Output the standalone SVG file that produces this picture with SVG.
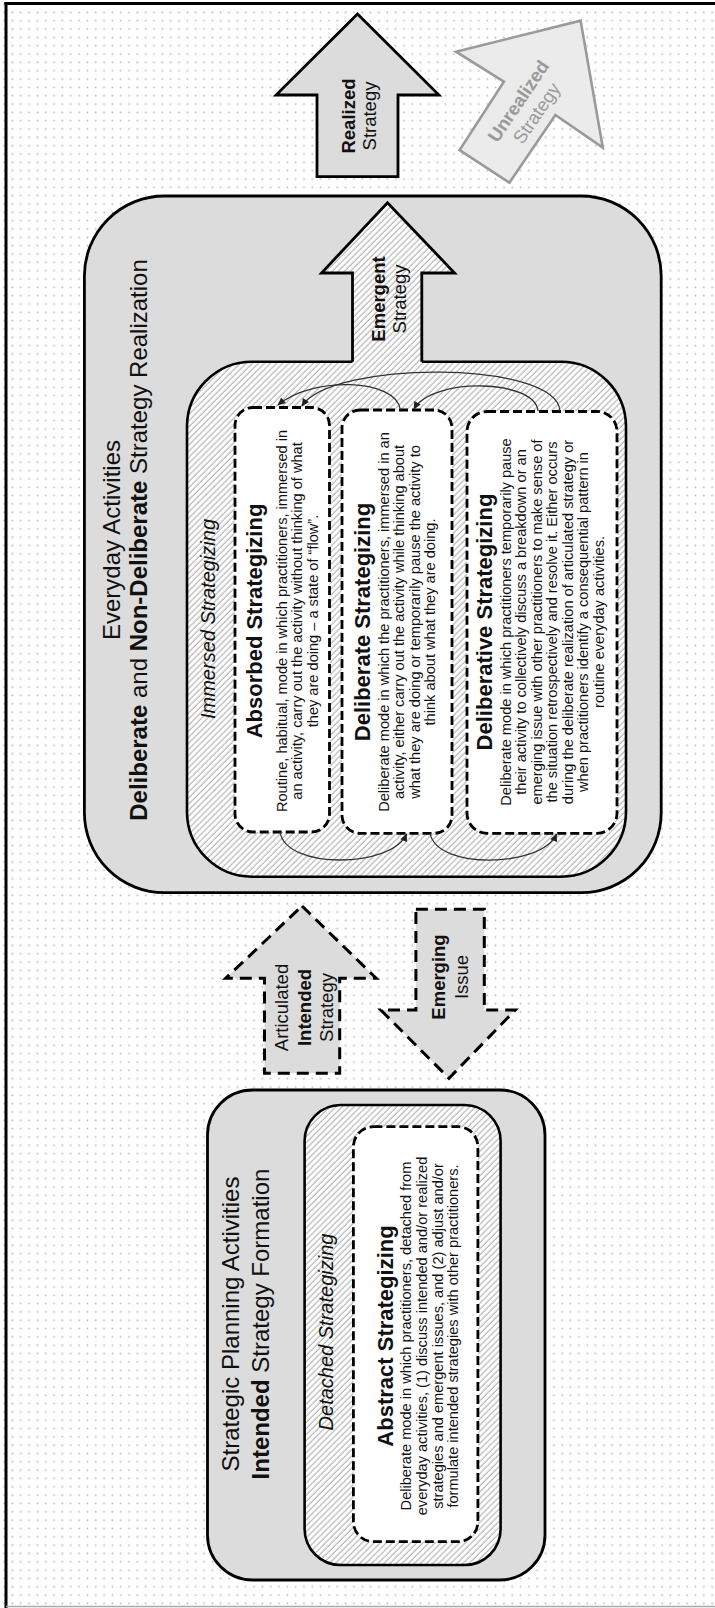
<svg xmlns="http://www.w3.org/2000/svg" width="715" height="1608" viewBox="0 0 715 1608">
<defs>
<pattern id="dots" width="8.33" height="8.33" patternUnits="userSpaceOnUse"><rect width="8.33" height="8.33" fill="#fff"/><rect x="3.3" y="3.3" width="1.6" height="1.6" fill="#b8b8b8"/></pattern>
<pattern id="hatch" width="4.3" height="4.3" patternUnits="userSpaceOnUse" patternTransform="rotate(45)"><rect width="4.3" height="4.3" fill="#fff"/><line x1="1" y1="0" x2="1" y2="4.3" stroke="#989898" stroke-width="0.85"/></pattern>
<marker id="ah" viewBox="0 0 10 10" refX="9" refY="5" markerWidth="9" markerHeight="8" markerUnits="userSpaceOnUse" orient="auto"><path d="M0,0.5 L10,5 L0,9.5 z" fill="#222"/></marker>
<style>
text{font-family:"Liberation Sans",Arial,sans-serif;fill:#111;}
.title{font-size:24px;}
.sub{font-size:20px;font-style:italic;}
.bt{font-size:22px;font-weight:bold;}
.body{font-size:14.6px;}
.lab{font-size:18.5px;}
.b{font-weight:bold;}
.outer{fill:#dcdcdc;stroke:#000;stroke-width:2.8;}
.inner{fill:url(#hatch);stroke:#000;stroke-width:2.6;}
.dash{fill:#fff;stroke:#000;stroke-width:2.8;stroke-dasharray:9 4;}
.arr{fill:#dcdcdc;stroke:#000;stroke-width:2.8;stroke-linejoin:miter;}
.darr{fill:#dcdcdc;stroke:#000;stroke-width:3;stroke-dasharray:12 7;}
.con{fill:none;stroke:#333;stroke-width:1.3;marker-end:url(#ah);}
</style>
</defs>
<rect width="715" height="1608" fill="url(#dots)"/>
<g id="frame" fill="none">
<line x1="4.5" y1="3.5" x2="715" y2="3.5" stroke="#000" stroke-width="3"/>
<line x1="6" y1="2" x2="6" y2="1608" stroke="#000" stroke-width="3"/>
<line x1="6" y1="1606.5" x2="715" y2="1606.5" stroke="#aaa" stroke-width="1.5"/>
</g>

<g id="realized-strategy">
<polygon class="arr" points="357.5,14 439,95 398,95 398,176.7 317,176.7 317,95 276,95"/>
<text class="lab" text-anchor="middle" transform="translate(354.5,116) rotate(-90)"><tspan x="0" y="0" class="b">Realized</tspan><tspan x="0" y="21.5">Strategy</tspan></text>
</g>

<g id="unrealized-strategy">
<polygon points="580.6,20.7 602.8,147.6 555.4,115 509.4,182.7 459.6,150 503.9,81.7 456,51.7" fill="#ebebeb" stroke="#9a9a9a" stroke-width="2.6" stroke-linejoin="miter"/>
<text class="lab" text-anchor="middle" transform="translate(527.3,107) rotate(-56)" style="fill:#9a9a9a"><tspan x="0" y="-4.3" class="b">Unrealized</tspan><tspan x="0" y="17.5">Strategy</tspan></text>
</g>

<g id="everyday-activities">
<rect class="outer" x="84.4" y="196" width="576.8" height="696.7" rx="80" ry="80"/>
<text class="title" text-anchor="middle" transform="translate(119.8,540) rotate(-90)"><tspan x="0" y="0">Everyday Activities</tspan><tspan x="0" y="27.5"><tspan class="b">Deliberate</tspan> and <tspan class="b">Non-Deliberate</tspan> Strategy Realization</tspan></text>
</g>

<g id="immersed-strategizing">
<rect class="inner" x="187" y="361.7" width="439" height="515" rx="65" ry="65"/>
<text class="sub" text-anchor="middle" transform="translate(214.5,619) rotate(-90)">Immersed Strategizing</text>
</g>

<g id="emergent-strategy">
<polygon points="387.5,202.7 454.6,273 421.8,273 421.8,364 352.5,364 352.5,273 321.5,273" fill="url(#hatch)"/>
<polyline points="352.5,361.7 352.5,273 321.5,273 387.5,202.7 454.6,273 421.8,273 421.8,361.7" fill="none" stroke="#000" stroke-width="2.8" stroke-linejoin="miter"/>
<text class="lab" text-anchor="middle" transform="translate(384.8,299) rotate(-90)"><tspan x="0" y="0" class="b">Emergent</tspan><tspan x="0" y="21.4">Strategy</tspan></text>
</g>

<g id="absorbed-strategizing">
<rect class="dash" x="235" y="407.5" width="94.5" height="424.5" rx="18" ry="18"/>
<text text-anchor="middle" transform="translate(262,621) rotate(-90)"><tspan class="bt" x="0" y="0">Absorbed Strategizing</tspan><tspan class="body" x="0" y="24.5">Routine, habitual, mode in which practitioners, immersed in</tspan><tspan class="body" x="0" y="40">an activity, carry out the activity without thinking of what</tspan><tspan class="body" x="0" y="55.5">they are doing – a state of “flow”.</tspan></text>
</g>

<g id="deliberate-strategizing">
<rect class="dash" x="342" y="410" width="110" height="423.3" rx="18" ry="18"/>
<text text-anchor="middle" transform="translate(369.5,622) rotate(-90)"><tspan class="bt" x="0" y="0">Deliberate Strategizing</tspan><tspan class="body" x="0" y="19">Deliberate mode in which the practitioners, immersed in an</tspan><tspan class="body" x="0" y="34.5">activity, either carry out the activity while thinking about</tspan><tspan class="body" x="0" y="50">what they are doing or temporarily pause the activity to</tspan><tspan class="body" x="0" y="65.5">think about what they are doing.</tspan></text>
</g>

<g id="deliberative-strategizing">
<rect class="dash" x="467" y="411.5" width="150" height="421.8" rx="20" ry="20"/>
<text text-anchor="middle" transform="translate(492.3,622) rotate(-90)"><tspan class="bt" x="0" y="0">Deliberative Strategizing</tspan><tspan class="body" x="0" y="18.7">Deliberate mode in which practitioners temporarily pause</tspan><tspan class="body" x="0" y="34.2">their activity to collectively discuss a breakdown or an</tspan><tspan class="body" x="0" y="49.7">emerging issue with other practitioners to make sense of</tspan><tspan class="body" x="0" y="65.2">the situation retrospectively and resolve it. Either occurs</tspan><tspan class="body" x="0" y="80.7">during the deliberate realization of articulated strategy or</tspan><tspan class="body" x="0" y="96.2">when practitioners identify a consequential pattern in</tspan><tspan class="body" x="0" y="111.7">routine everyday activities.</tspan></text>
</g>

<g id="connectors">
<path class="con" d="M400.5,410 C396,378 312,376 278,405"/>
<path class="con" d="M560,411 C556,360 332,360 302,406"/>
<path class="con" d="M538,411 C535,379 432,377 414,409"/>
<path class="con" d="M280,832 C286,870 392,868 406.5,834"/>
<path class="con" d="M430,833 C436,870 542,868 556.5,834"/>
</g>

<g id="articulated-intended-strategy">
<polygon class="darr" points="302,906 376.2,978.3 339.7,978.3 339.7,1073.3 264.5,1073.3 264.5,978.3 225.7,978.3"/>
<text class="lab" text-anchor="middle" transform="translate(288.2,1007.5) rotate(-90)"><tspan x="0" y="0">Articulated</tspan><tspan x="0" y="22.5" class="b">Intended</tspan><tspan x="0" y="44.5">Strategy</tspan></text>
</g>

<g id="emerging-issue">
<polygon class="darr" points="415.9,909.3 484.3,909.3 484.3,1010 515.3,1010 449,1078.3 380.8,1010 415.9,1010"/>
<text class="lab" text-anchor="middle" transform="translate(444.5,977) rotate(-90)"><tspan x="0" y="0" class="b">Emerging</tspan><tspan x="0" y="23.5">Issue</tspan></text>
</g>

<g id="strategic-planning-activities">
<rect class="outer" x="207.5" y="1090" width="337.5" height="490" rx="45" ry="45"/>
<text class="title" text-anchor="middle" transform="translate(239,1324) rotate(-90)"><tspan x="0" y="0">Strategic Planning Activities</tspan><tspan x="0" y="29.5"><tspan class="b">Intended</tspan> Strategy Formation</tspan></text>
</g>

<g id="detached-strategizing">
<rect class="inner" x="304.6" y="1105" width="196" height="460" rx="36" ry="36"/>
<text class="sub" text-anchor="middle" transform="translate(333,1332) rotate(-90)">Detached Strategizing</text>
</g>

<g id="abstract-strategizing">
<rect class="dash" x="353.4" y="1126.7" width="124.5" height="415" rx="20" ry="20"/>
<text text-anchor="middle" transform="translate(393.4,1336) rotate(-90)"><tspan class="bt" x="0" y="0">Abstract Strategizing</tspan><tspan class="body" x="0" y="17.6">Deliberate mode in which practitioners, detached from</tspan><tspan class="body" x="0" y="33.6">everyday activities, (1) discuss intended and/or realized</tspan><tspan class="body" x="0" y="49.6">strategies and emergent issues, and (2) adjust and/or</tspan><tspan class="body" x="0" y="65.1">formulate intended strategies with other practitioners.</tspan></text>
</g>
</svg>
